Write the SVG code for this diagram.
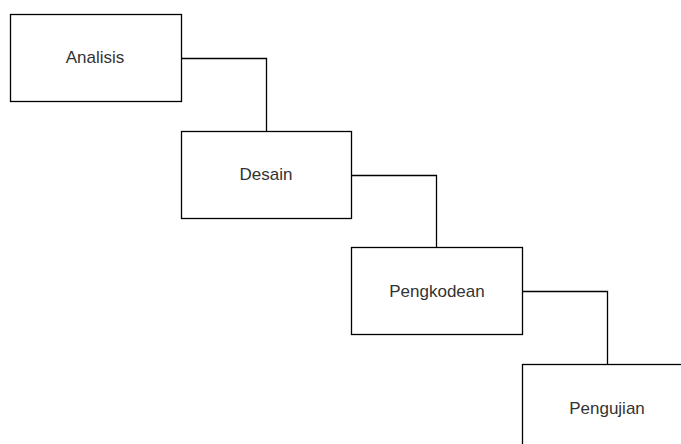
<svg xmlns="http://www.w3.org/2000/svg" width="681" height="444" viewBox="0 0 681 444">
  <style>
    .box { fill: #ffffff; stroke: #000000; stroke-width: 1.3; }
    .label { font-family: "Liberation Sans", Arial, Helvetica, sans-serif; font-size: 17px; fill: #333333; text-anchor: middle; dominant-baseline: central; }
    .link { fill: none; stroke: #000000; stroke-width: 1.3; }
  </style>
  <rect width="681" height="444" fill="#ffffff"/>
  <g id="connectors">
    <path class="link" d="M181.5 58.5 H266.5 V131.5"/>
    <path class="link" d="M351.5 175.5 H436.5 V247.5"/>
    <path class="link" d="M522.5 291.5 H607.5 V364.5"/>
  </g>
  <g id="analisis">
    <rect class="box" x="10.5" y="14.5" width="171" height="87"/>
    <text class="label" x="95" y="57">Analisis</text>
  </g>
  <g id="desain">
    <rect class="box" x="181.5" y="131.5" width="170" height="87"/>
    <text class="label" x="266" y="174">Desain</text>
  </g>
  <g id="pengkodean">
    <rect class="box" x="351.5" y="247.5" width="171" height="87"/>
    <text class="label" x="437" y="291">Pengkodean</text>
  </g>
  <g id="pengujian">
    <rect class="box" x="522.5" y="364.5" width="170" height="87"/>
    <text class="label" x="607" y="408">Pengujian</text>
  </g>
</svg>
